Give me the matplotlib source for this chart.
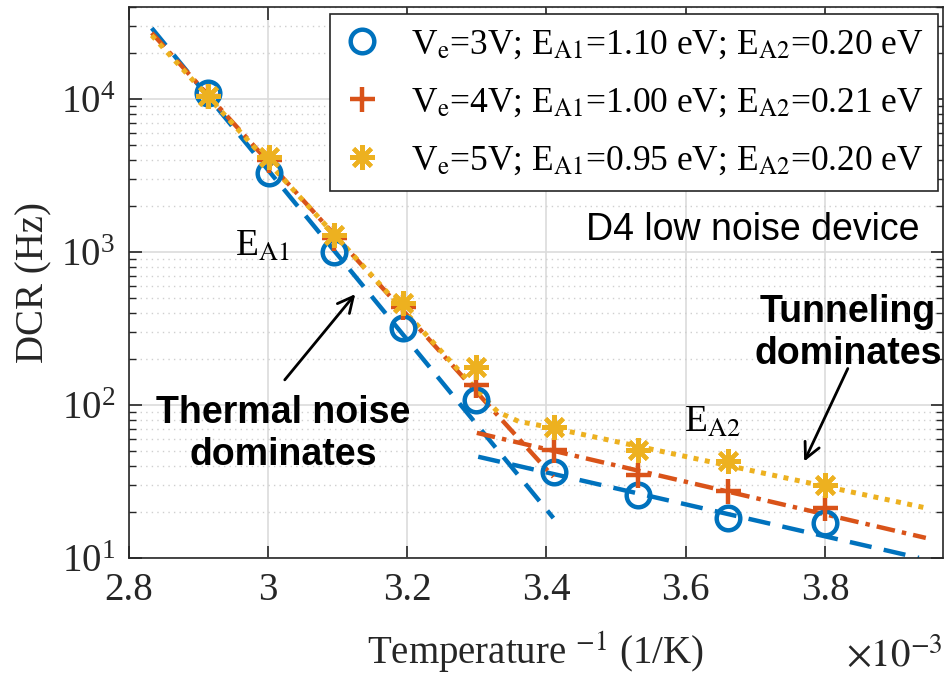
import matplotlib.pyplot as plt
import numpy as np
from matplotlib.ticker import FixedLocator, LogLocator, FuncFormatter, NullFormatter

plt.rcParams['font.family'] = ['Liberation Serif', 'DejaVu Serif']
plt.rcParams['mathtext.fontset'] = 'stix'

# measurement temperatures (deg C) and DCR values (Hz)
temp_c = np.array([70, 60, 50, 40, 30, 20, 10, 0, -10])
dcr_3v = [1.09e4, 3.3e3, 1.0e3, 318, 108, 36.5, 25.8, 18.2, 16.9]
dcr_4v = [1.04e4, 4.0e3, 1.23e3, 437, 135, 50.8, 34.8, 27.4, 21.2]
dcr_5v = [1.04e4, 4.15e3, 1.29e3, 464, 177, 71.8, 50.8, 43.1, 30.0]

# fitted lines (1/K, Hz)
fit3_th_x = [2.833e-3, 3.41e-3]
fit3_th_y = [2.9e4, 18.2]
fit3_tu_x = [3.302e-3, 3.935e-3]
fit3_tu_y = [45.8, 10.0]
fit4_th_x = [2.833e-3, 3.41e-3]
fit4_th_y = [2.7e4, 33.8]
fit4_tu_x = [3.30e-3, 3.945e-3]
fit4_tu_y = [65.6, 13.5]
fit5_x = [2.833e-3, 3.30e-3, 3.33e-3, 3.36e-3, 3.40e-3, 3.945e-3]
fit5_y = [2.6e4, 125, 90, 78, 72, 21.2]

labels = [r'V$_{\mathrm{e}}$=3V; E$_{\mathrm{A1}}$=1.10 eV; E$_{\mathrm{A2}}$=0.20 eV',
          r'V$_{\mathrm{e}}$=4V; E$_{\mathrm{A1}}$=1.00 eV; E$_{\mathrm{A2}}$=0.21 eV',
          r'V$_{\mathrm{e}}$=5V; E$_{\mathrm{A1}}$=0.95 eV; E$_{\mathrm{A2}}$=0.20 eV']

blue = '#0072BD'
red = '#D95319'
yel = '#EDB120'

x = 1.0 / (temp_c + 273.15)

fig = plt.figure(figsize=(9.47, 6.77), dpi=100)
ax = fig.add_axes([0.136, 0.176, 0.860, 0.814])
ax.set_yscale('log')

lw = 3.2
dash = (0, (5, 2.8))
dashdot = (0, (4.2, 1.6, 1.0, 1.6))
dot = (0, (1, 1.3))
ax.plot(fit3_th_x, fit3_th_y, color=blue, ls=dash, lw=lw)
ax.plot(fit3_tu_x, fit3_tu_y, color=blue, ls=dash, lw=lw)
ax.plot(fit4_th_x, fit4_th_y, color=red, ls=dashdot, lw=lw)
ax.plot(fit4_tu_x, fit4_tu_y, color=red, ls=dashdot, lw=lw)
ax.plot(fit5_x, fit5_y, color=yel, ls=dot, lw=3.6)

ax.plot(x, dcr_3v, 'o', ms=17, mfc='none', mec=blue, mew=3.2, label=labels[0])
ax.plot(x, dcr_4v, '+', ms=18, mec=red, mew=3.2, label=labels[1])
ax.plot(x, dcr_5v, marker=(8, 2, 0), ls='none', ms=18, mec=yel, mew=3.0, label=labels[2])

ax.set_xlim(2.8e-3, 3.97e-3)
ax.set_ylim(10, 4e4)
ax.xaxis.set_major_locator(FixedLocator([2.8e-3, 3.0e-3, 3.2e-3, 3.4e-3, 3.6e-3, 3.8e-3]))
ax.xaxis.set_major_formatter(FuncFormatter(lambda v, p: f'{v * 1e3:g}'))
ax.yaxis.set_major_locator(LogLocator(base=10, numticks=10))
ax.yaxis.set_minor_locator(LogLocator(base=10, subs=np.arange(2, 10), numticks=20))
ax.yaxis.set_minor_formatter(NullFormatter())

ax.grid(True, which='major', color='#dcdcdc', lw=1.2, ls='-')
ax.grid(True, which='minor', axis='y', color='#cfcfcf', lw=1.0, ls=(0, (1, 3)))
ax.set_axisbelow(True)

axc = '#262626'
for s in ax.spines.values():
    s.set_color(axc)
    s.set_linewidth(1.2)
ax.tick_params(which='both', direction='in', top=True, right=True, colors=axc,
               labelcolor='#262626', labelsize=28)
ax.tick_params(which='major', length=9, width=1.2, pad=10)
ax.tick_params(which='minor', length=5, width=1.0)

ax.set_xlabel(r'Temperature $^{\mathrm{-1}}$ (1/K)', fontsize=28, color='#262626', labelpad=15)
ax.set_ylabel('DCR (Hz)', fontsize=28, color='#262626', labelpad=6)
ax.text(1.0, -0.198, r'$\times 10^{-3}$', transform=ax.transAxes, ha='right', va='baseline',
        fontsize=28, color='#262626')

leg = ax.legend(loc='upper right', bbox_to_anchor=(0.994, 0.986), borderaxespad=0,
                fontsize=25.5, frameon=True, fancybox=False, handlelength=1.0,
                handletextpad=0.9, labelspacing=0.7, borderpad=0.4)
leg.get_frame().set_edgecolor(axc)
leg.get_frame().set_linewidth(1.2)
leg.get_frame().set_alpha(1)

ax.text(3.032e-3, 1.08e3, r'E$_{\mathrm{A1}}$', fontsize=27, ha='right', va='center')
ax.text(3.679e-3, 76, r'E$_{\mathrm{A2}}$', fontsize=27, ha='right', va='center')
ax.text(0.971, 0.595, 'D4 low noise device', transform=ax.transAxes, ha='right', va='center',
        fontsize=27, family='Liberation Sans')
ax.text(0.883, 0.408, 'Tunneling\ndominates', transform=ax.transAxes, ha='center', va='center',
        fontsize=27, family='Liberation Sans', weight='bold', linespacing=1.2)
ax.text(0.190, 0.225, 'Thermal noise\ndominates', transform=ax.transAxes, ha='center', va='center',
        fontsize=27, family='Liberation Sans', weight='bold', linespacing=1.2)

ax.annotate('', xy=(357, 677 - 292), xycoords='figure pixels',
            xytext=(283, 677 - 382), textcoords='figure pixels',
            arrowprops=dict(arrowstyle='->', color='black', lw=2, mutation_scale=28))
ax.annotate('', xy=(803, 677 - 464), xycoords='figure pixels',
            xytext=(849, 677 - 366), textcoords='figure pixels',
            arrowprops=dict(arrowstyle='->', color='black', lw=2, mutation_scale=28))

fig.savefig('out.png', dpi=100)
